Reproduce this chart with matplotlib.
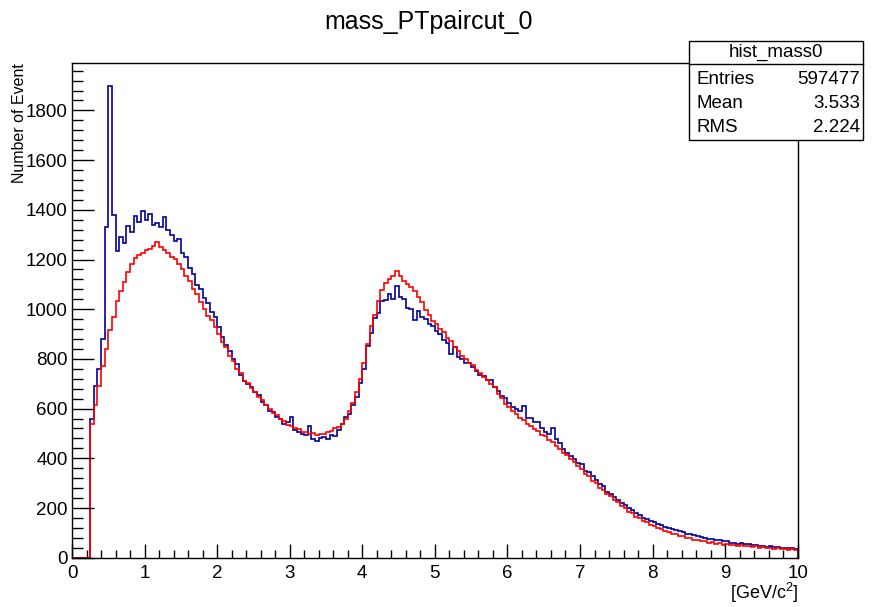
#!/usr/bin/env python

import numpy as np
import matplotlib.pyplot as plt
from matplotlib.patches import Rectangle
from matplotlib.lines import Line2D
from matplotlib.ticker import MultipleLocator

plt.rcParams['font.family'] = ['Liberation Sans', 'DejaVu Sans']
plt.rcParams['mathtext.fontset'] = 'custom'
plt.rcParams['mathtext.rm'] = 'Liberation Sans'
plt.rcParams['mathtext.default'] = 'regular'

# histogram: 200 bins of 0.05 GeV/c^2 from 0 to 10
x_min, x_max, n_bins = 0.0, 10.0, 200

# blue series (hist_mass0)
blue_counts = [
    0, 0, 0, 0, 0, 560, 690, 760, 880, 1330,
    1900, 1380, 1235, 1290, 1265, 1335, 1310, 1375, 1350, 1395,
    1360, 1385, 1340, 1345, 1330, 1372, 1320, 1300, 1275, 1282,
    1225, 1212, 1165, 1142, 1098, 1080, 1045, 1025, 990, 970,
    930, 890, 855, 830, 800, 778, 735, 712, 698, 688,
    665, 655, 625, 615, 592, 585, 566, 558, 540, 545,
    565, 512, 506, 496, 492, 532, 478, 468, 480, 484,
    478, 492, 490, 512, 538, 565, 580, 615, 648, 705,
    758, 852, 905, 965, 985, 1035, 1038, 1062, 1040, 1092,
    1048, 1042, 1005, 1002, 955, 992, 970, 962, 940, 932,
    912, 902, 876, 862, 818, 848, 806, 798, 782, 782,
    768, 752, 735, 730, 715, 714, 688, 672, 652, 642,
    622, 608, 598, 592, 612, 562, 562, 545, 548, 522,
    506, 498, 522, 478, 462, 438, 422, 408, 396, 380,
    376, 348, 344, 328, 314, 298, 290, 266, 256, 243,
    234, 220, 212, 198, 190, 178, 172, 160, 156, 146,
    143, 136, 133, 125, 121, 114, 111, 106, 103, 97,
    96, 90, 89, 83, 81, 76, 75, 71, 71, 66,
    67, 61, 61, 57, 58, 54, 54, 51, 51, 48,
    49, 45, 46, 43, 44, 41, 41, 38, 38, 35,
]

# red series
red_counts = [
    0, 0, 0, 0, 0, 540, 615, 690, 770, 840,
    915, 970, 1035, 1075, 1110, 1150, 1180, 1205, 1218, 1225,
    1238, 1242, 1255, 1270, 1252, 1238, 1228, 1212, 1202, 1182,
    1162, 1132, 1112, 1082, 1062, 1028, 1002, 972, 957, 928,
    902, 868, 847, 812, 792, 758, 742, 713, 702, 683,
    667, 648, 634, 616, 600, 583, 574, 558, 550, 536,
    532, 520, 517, 506, 505, 498, 500, 495, 499, 497,
    505, 508, 520, 525, 540, 558, 592, 623, 667, 718,
    782, 858, 932, 978, 1032, 1078, 1107, 1120, 1134, 1152,
    1132, 1113, 1102, 1090, 1074, 1048, 1027, 996, 977, 953,
    939, 920, 907, 886, 872, 846, 832, 810, 800, 782,
    774, 756, 744, 726, 717, 698, 686, 658, 642, 618,
    607, 590, 580, 563, 554, 538, 532, 516, 510, 495,
    489, 473, 464, 448, 439, 422, 413, 396, 386, 368,
    358, 338, 328, 310, 300, 281, 272, 256, 250, 233,
    224, 208, 200, 185, 178, 164, 158, 146, 143, 132,
    129, 118, 116, 106, 104, 95, 95, 87, 87, 79,
    79, 72, 73, 66, 67, 60, 62, 56, 59, 53,
    56, 50, 53, 48, 51, 46, 48, 43, 46, 41,
    44, 38, 41, 36, 39, 33, 36, 31, 33, 29,
]

hist_title = 'mass_PTpaircut_0'
stats_name = 'hist_mass0'
stats_rows = [('Entries', '597477'), ('Mean', '3.533'), ('RMS', '2.224')]

W, H = 872, 607


def fx(px):
    return px / W


def fy(py):
    return 1 - py / H


edges = np.linspace(x_min, x_max, n_bins + 1)

fig = plt.figure(figsize=(W / 100, H / 100), dpi=100)
ax = fig.add_axes([fx(72), fy(557.7), fx(797.7) - fx(72), fy(62.7) - fy(557.7)])

ax.stairs(blue_counts, edges, color='#000099', lw=1.2)
ax.stairs(red_counts, edges, color='#ff0000', lw=1.2)

ax.set_xlim(0, 10)
ax.set_ylim(0, 1992)

ax.xaxis.set_major_locator(MultipleLocator(1))
ax.xaxis.set_minor_locator(MultipleLocator(0.2))
ax.yaxis.set_major_locator(MultipleLocator(200))
ax.yaxis.set_minor_locator(MultipleLocator(40))

ax.tick_params(axis='x', which='major', direction='in', length=10, width=1, labelsize=13.5, pad=5)
ax.tick_params(axis='x', which='minor', direction='in', length=5.5, width=1)
ax.tick_params(axis='y', which='major', direction='in', length=16, width=1, labelsize=13.5, pad=3)
ax.tick_params(axis='y', which='minor', direction='in', length=8, width=1)

for s in ax.spines.values():
    s.set_linewidth(1)

fig.text(fx(429), fy(22), hist_title, ha='center', va='center', fontsize=18)
fig.text(fx(20), fy(63), 'Number of Event', rotation=90, ha='center', va='top', fontsize=11.5)
fig.text(fx(798), fy(593), '[GeV/c$^{2}$]', ha='right', va='center', fontsize=13)

# stats box
fig.add_artist(Rectangle((fx(689), fy(140)), fx(863) - fx(689), fy(41) - fy(140),
                         transform=fig.transFigure, facecolor='white', edgecolor='black', lw=1))
fig.add_artist(Line2D([fx(689), fx(863)], [fy(64), fy(64)], transform=fig.transFigure,
                      color='black', lw=1))
fig.text(fx(776), fy(52.5), stats_name, ha='center', va='center', fontsize=13.5)
row_y = [79, 103.5, 127]
for (name, val), yy in zip(stats_rows, row_y):
    fig.text(fx(697), fy(yy), name, ha='left', va='center', fontsize=13.5)
    fig.text(fx(860), fy(yy), val, ha='right', va='center', fontsize=13.5)

fig.savefig('out.png', dpi=100)
